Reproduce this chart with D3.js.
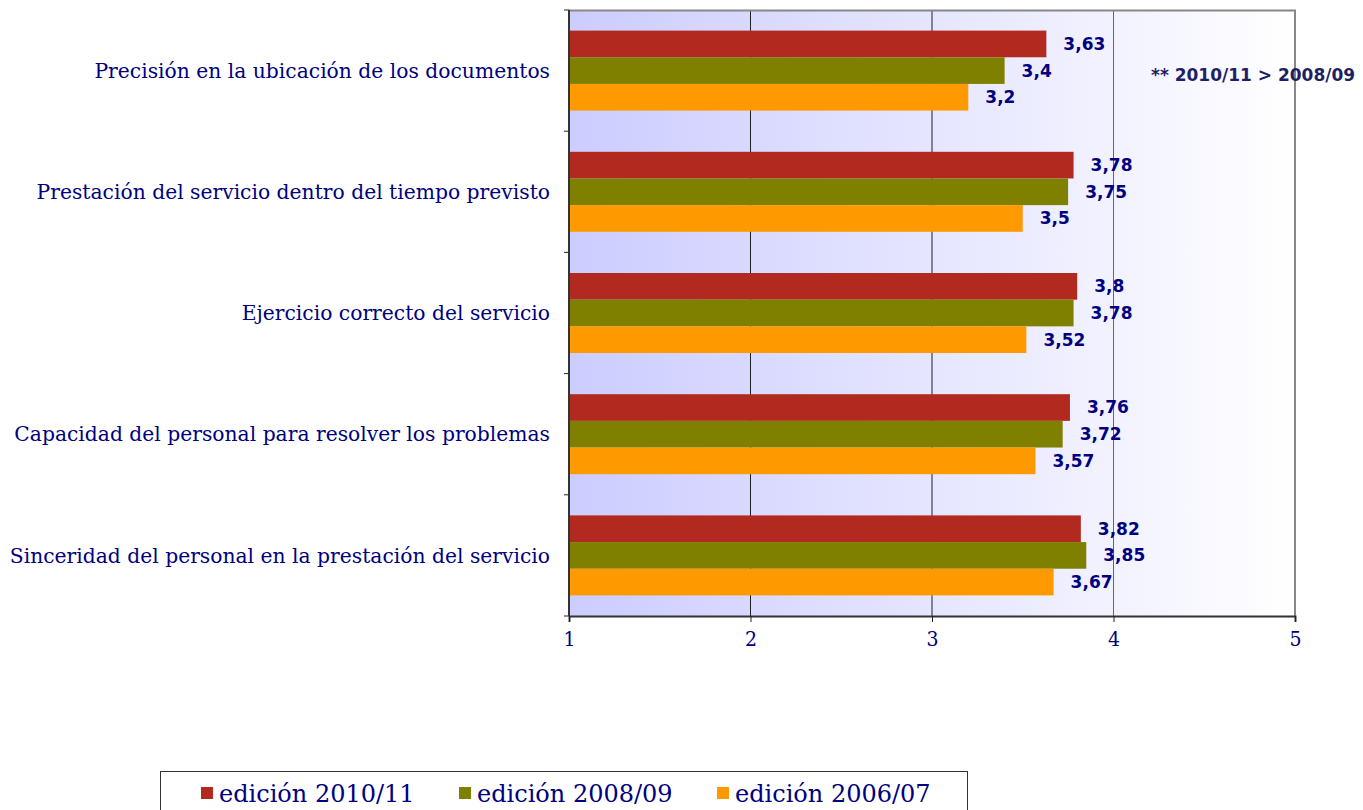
<!DOCTYPE html>
<html>
<head>
<meta charset="utf-8">
<script src="https://cdn.jsdelivr.net/npm/d3@7"></script>
<style>
  body { margin: 0; background: #fff; }
</style>
</head>
<body>
<div id="chart"></div>
<script>
// data
var categories = [
    "Precisión en la ubicación de los documentos",
    "Prestación del servicio dentro del tiempo previsto",
    "Ejercicio correcto del servicio",
    "Capacidad del personal para resolver los problemas",
    "Sinceridad del personal en la prestación del servicio"
];
var seriesNames = ["edición 2010/11", "edición 2008/09", "edición 2006/07"];
var values2010 = [3.63, 3.78, 3.8, 3.76, 3.82];
var values2008 = [3.4, 3.75, 3.78, 3.72, 3.85];
var values2006 = [3.2, 3.5, 3.52, 3.57, 3.67];
var xTicks = [1, 2, 3, 4, 5];
var note = "** 2010/11 > 2008/09";

var colors = ["#b2291f", "#808000", "#ff9900"];
var navy = "#000080";

var width = 1363, height = 810;
var margin = {top: 10, right: 68, bottom: 194, left: 569};
var plotW = width - margin.left - margin.right;
var plotH = height - margin.top - margin.bottom;

var svg = d3.select("#chart").append("svg")
    .attr("width", width)
    .attr("height", height);

// background gradient of the plot area
var grad = svg.append("defs").append("linearGradient")
    .attr("id", "bg")
    .attr("x1", "0%").attr("x2", "100%").attr("y1", "0%").attr("y2", "0%");
grad.append("stop").attr("offset", "0%").attr("stop-color", "#ccccff");
grad.append("stop").attr("offset", "100%").attr("stop-color", "#ffffff");

var g = svg.append("g")
    .attr("transform", `translate(${margin.left}, ${margin.top})`);

var x = d3.scaleLinear().domain([1, 5]).range([0, plotW]);
var y = d3.scaleBand().domain(categories).range([0, plotH]).paddingInner(0).paddingOuter(0);
var yInner = d3.scaleBand().domain(seriesNames).range([y.bandwidth() * 0.17, y.bandwidth() * 0.83]);

g.append("rect")
    .attr("width", plotW)
    .attr("height", plotH)
    .attr("fill", "url(#bg)");

// vertical grid lines
g.selectAll(".grid").data(xTicks.slice(1, -1)).enter().append("line")
    .attr("x1", d => x(d)).attr("x2", d => x(d))
    .attr("y1", 0).attr("y2", plotH)
    .attr("stroke", d => d === 4 ? "#666" : "#222")
    .attr("stroke-width", 1);

// plot border (top, right)
g.append("path")
    .attr("d", `M0,0.5H${plotW}V${plotH}`)
    .attr("fill", "none")
    .attr("stroke", "#888")
    .attr("stroke-width", 2);

var series = [values2010, values2008, values2006];

categories.forEach(function(cat, i) {
    var grp = g.append("g").attr("transform", `translate(0, ${y(cat)})`);
    series.forEach(function(vals, s) {
        grp.append("rect")
            .attr("x", x(1))
            .attr("y", yInner(seriesNames[s]))
            .attr("width", x(vals[i]) - x(1))
            .attr("height", yInner.bandwidth())
            .attr("fill", colors[s]);
        grp.append("text")
            .attr("x", x(vals[i]) + 17)
            .attr("y", yInner(seriesNames[s]) + yInner.bandwidth() / 2)
            .attr("dy", "0.35em")
            .attr("font-family", "DejaVu Sans")
            .attr("font-weight", "bold")
            .attr("font-size", 17)
            .attr("fill", navy)
            .text(String(vals[i]).replace(".", ","));
    });
});

// left axis: tick marks at band boundaries
var yBounds = categories.map(c => y(c)).concat([plotH]);
g.selectAll(".ytick").data(yBounds).enter().append("line")
    .attr("x1", -5).attr("x2", 0)
    .attr("y1", d => d).attr("y2", d => d)
    .attr("stroke", "#222");
g.append("line")
    .attr("x1", 0).attr("x2", 0).attr("y1", 0).attr("y2", plotH)
    .attr("stroke", "#333").attr("stroke-width", 2);

// category labels
g.selectAll(".cat").data(categories).enter().append("text")
    .attr("x", -19)
    .attr("y", d => y(d) + y.bandwidth() / 2)
    .attr("dy", "0.35em")
    .attr("text-anchor", "end")
    .attr("font-family", "DejaVu Serif")
    .attr("font-size", 20.3)
    .attr("fill", navy)
    .text(d => d);

// bottom axis
var xAxis = g.append("g")
    .attr("transform", `translate(0, ${plotH})`)
    .call(d3.axisBottom(x).tickValues(xTicks).tickSize(6).tickFormat(d3.format("d")));
xAxis.select(".domain").attr("stroke", "#333").attr("stroke-width", 2);
xAxis.selectAll(".tick line").attr("stroke", "#222");
xAxis.selectAll(".tick text")
    .attr("y", 15)
    .style("font-family", "DejaVu Serif")
    .style("font-size", "21px")
    .style("font-stretch", "condensed")
    .attr("fill", navy);

// annotation
svg.append("text")
    .attr("x", 1151)
    .attr("y", 75)
    .attr("dy", "0.35em")
    .attr("font-family", "DejaVu Sans")
    .attr("font-weight", "bold")
    .attr("font-size", 17)
    .attr("fill", "#1f1f66")
    .text(note);

// legend
var legend = svg.append("g").attr("transform", "translate(160, 771)");
legend.append("rect")
    .attr("x", 0.5).attr("y", 0.5)
    .attr("width", 807).attr("height", 50)
    .attr("fill", "#fff")
    .attr("stroke", "#333");
var legendX = [41, 299, 557];
seriesNames.forEach(function(name, s) {
    legend.append("rect")
        .attr("x", legendX[s])
        .attr("y", 16)
        .attr("width", 12).attr("height", 12)
        .attr("fill", colors[s]);
    legend.append("text")
        .attr("x", legendX[s] + 18)
        .attr("y", 31)
        .attr("font-family", "DejaVu Serif")
        .attr("font-size", 24)
        .attr("fill", navy)
        .text(name);
});
</script>
</body>
</html>
